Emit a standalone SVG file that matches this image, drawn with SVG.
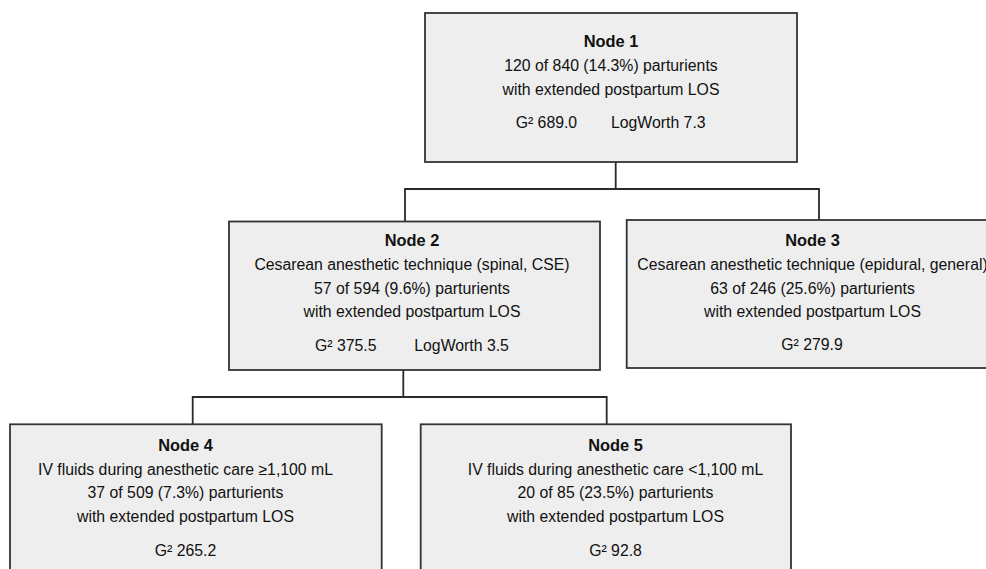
<svg xmlns="http://www.w3.org/2000/svg" width="986" height="569" viewBox="0 0 986 569">
<style>
.box{fill:#eeeeee;stroke:#333333;stroke-width:1.8}
.conn{fill:none;stroke:#2a2a2a;stroke-width:1.8}
text{font-family:"Liberation Sans",Arial,sans-serif;font-size:15.8px;fill:#111111}
.c{text-anchor:middle}
.t{font-weight:bold;font-size:16.4px}
</style>
<rect width="986" height="569" fill="#ffffff"/>
<g id="connectors">
<path class="conn" d="M615.7,162 V189 M405,221 V189 H819 V220"/>
<path class="conn" d="M403.3,370 V397 M192.7,424 V397 H606.7 V424"/>
</g>
<g id="node1">
<rect class="box" x="425" y="13" width="372" height="149"/>
<text class="c t" x="611" y="47">Node 1</text>
<text class="c" x="611" y="71">120 of 840 (14.3%) parturients</text>
<text class="c" x="611" y="95">with extended postpartum LOS</text>
<text x="515.7" y="128">G² 689.0</text>
<text x="611" y="128">LogWorth 7.3</text>
</g>
<g id="node2">
<rect class="box" x="229" y="221.5" width="371" height="148.5"/>
<text class="c t" x="412" y="246">Node 2</text>
<text class="c" x="412" y="270">Cesarean anesthetic technique (spinal, CSE)</text>
<text class="c" x="412" y="293.5">57 of 594 (9.6%) parturients</text>
<text class="c" x="412" y="317">with extended postpartum LOS</text>
<text x="315" y="350.5">G² 375.5</text>
<text x="414.3" y="350.5">LogWorth 3.5</text>
</g>
<g id="node3">
<rect class="box" x="626.7" y="220" width="372" height="148"/>
<text class="c t" x="812.5" y="246">Node 3</text>
<text class="c" x="812.5" y="270">Cesarean anesthetic technique (epidural, general)</text>
<text class="c" x="812.5" y="293.5">63 of 246 (25.6%) parturients</text>
<text class="c" x="812.5" y="317">with extended postpartum LOS</text>
<text class="c" x="812" y="350">G² 279.9</text>
</g>
<g id="node4">
<rect class="box" x="10" y="424.3" width="371.7" height="160"/>
<text class="c t" x="185.5" y="450.5">Node 4</text>
<text class="c" x="185.5" y="474.5">IV fluids during anesthetic care ≥1,100 mL</text>
<text class="c" x="185.5" y="498">37 of 509 (7.3%) parturients</text>
<text class="c" x="185.5" y="522">with extended postpartum LOS</text>
<text class="c" x="185.5" y="555.5">G² 265.2</text>
</g>
<g id="node5">
<rect class="box" x="420.7" y="424.3" width="370.3" height="160"/>
<text class="c t" x="615.5" y="450.5">Node 5</text>
<text class="c" x="615.5" y="474.5">IV fluids during anesthetic care &lt;1,100 mL</text>
<text class="c" x="615.5" y="498">20 of 85 (23.5%) parturients</text>
<text class="c" x="615.5" y="522">with extended postpartum LOS</text>
<text class="c" x="615.5" y="555.5">G² 92.8</text>
</g>
</svg>
